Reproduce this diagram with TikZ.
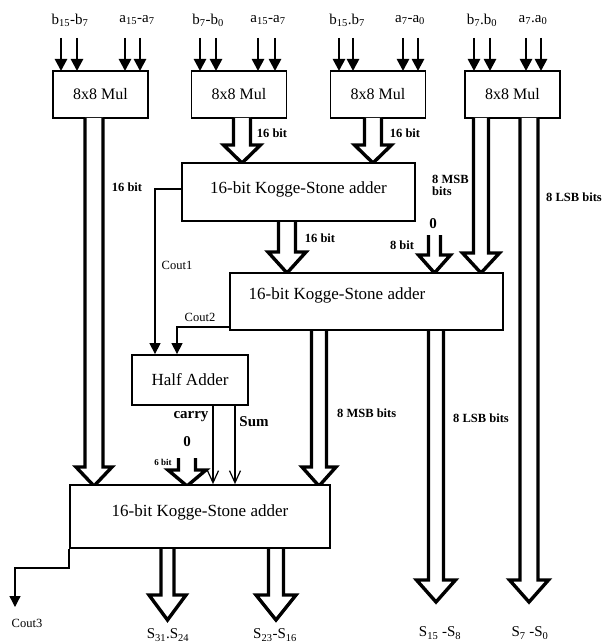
\documentclass[tikz,border=0pt]{standalone}
\usepackage{fontspec}
\setmainfont{Liberation Serif}
\usetikzlibrary{arrows.meta}
\newcommand\harrow[6]{%
  \draw[hollow] (#1-#5,#2) -- (#1-#5,#3) -- (#1-#6,#3) -- (#1,#4) -- (#1+#6,#3) -- (#1+#5,#3) -- (#1+#5,#2);}
\begin{document}
\begin{tikzpicture}[x=1pt,y=-1pt,
  box/.style={draw,line width=1.8pt,inner sep=0pt,fill=white,font=\fontsize{17}{18}\selectfont},
  mulbox/.style={box,minimum width=95pt,minimum height=47pt,font=\fontsize{16}{18}\selectfont},
  hollow/.style={line width=3.4pt,fill=white,line join=miter},
  inarrow/.style={line width=2.6pt,-{Triangle[width=12pt,length=12pt]}},
  thin/.style={line width=1.3pt},
  thinarrow/.style={line width=1.3pt,-{Triangle[width=11pt,length=11pt]}},
  openarrow/.style={line width=1.2pt,-{Straight Barb[width=11pt,length=12pt,line width=1.2pt]}},
  lab/.style={inner sep=0pt,font=\fontsize{15}{16}\selectfont},
  blab/.style={inner sep=0pt,font=\bfseries\fontsize{12.5}{14}\selectfont},
  clab/.style={inner sep=0pt,font=\fontsize{12.5}{14}\selectfont}]
\useasboundingbox[fill=white] (0,0) rectangle (603,644);

% multiplier boxes
\node[mulbox] (mul1) at (100.5,94.5) {8x8 Mul};
\node[mulbox] (mul2) at (239,94.5) {8x8 Mul};
\node[mulbox] (mul3) at (378,94.5) {8x8 Mul};
\node[mulbox] (mul4) at (512.5,94.5) {8x8 Mul};

% input labels
\node[lab] (i1) at (70,20) {b\textsubscript{15}-b\textsubscript{7}};
\node[lab] (i2) at (137,20) {a\textsubscript{15}-a\textsubscript{7}};
\node[lab] (i3) at (208,20) {b\textsubscript{7}-b\textsubscript{0}};
\node[lab] (i4) at (268,20) {a\textsubscript{15}-a\textsubscript{7}};
\node[lab] (i5) at (347,20) {b\textsubscript{15}.b\textsubscript{7}};
\node[lab] (i6) at (410,20) {a\textsubscript{7}-a\textsubscript{0}};
\node[lab] (i7) at (482,20) {b\textsubscript{7}.b\textsubscript{0}};
\node[lab] (i8) at (533,20) {a\textsubscript{7}.a\textsubscript{0}};

% input arrows
\foreach \x in {61,77,125,140} \draw[inarrow] (\x,38) -- (\x,71);
\foreach \x in {200,216,258,275} \draw[inarrow] (\x,38) -- (\x,71);
\foreach \x in {339,353,403,418} \draw[inarrow] (\x,38) -- (\x,71);
\foreach \x in {474,490,526,541} \draw[inarrow] (\x,38) -- (\x,71);

% hollow bus arrows
\harrow{94}{118}{467}{486}{9}{18}
\harrow{242}{118}{145}{163}{8.5}{18.5}
\harrow{373}{118}{145}{163}{8.5}{18.5}
\harrow{481}{118}{253}{273}{7.5}{18.5}
\harrow{529}{118}{580}{602}{9}{19.5}
\harrow{287}{221}{252}{273}{8.5}{19}
\harrow{434.5}{235}{255}{273}{6}{16}
\harrow{319}{330}{467}{486}{7.5}{17}
\harrow{436}{330}{580}{602}{7.5}{19.5}
\harrow{187}{458}{470}{486}{8.5}{19}
\harrow{167.5}{548}{595}{620}{6.5}{18.5}
\harrow{276}{548}{595}{620}{7.5}{20}

% adders
\node[box,minimum width=233pt,minimum height=58pt] (ks1) at (298.5,192) {\raisebox{9pt}{16-bit Kogge-Stone adder}};
\node[box,minimum width=273pt,minimum height=57pt] (ks2) at (366.5,301.5) {};
\node[inner sep=0pt,font=\fontsize{17}{18}\selectfont] (ks2t) at (337,295) {16-bit Kogge-Stone adder};
\node[box,minimum width=116pt,minimum height=50pt] (ha) at (190,380) {Half Adder};
\node[box,minimum width=260pt,minimum height=63pt] (ks3) at (200,516.5) {\raisebox{12pt}{16-bit Kogge-Stone adder}};

% carry connections
\coordinate (c1a) at (155,189);
\coordinate (c2a) at (177,327);
\draw[thinarrow] (ks1.west |- c1a) -| (ha.north -| c1a);
\draw[thinarrow] (ks2.west |- c2a) -| (ha.north -| c2a);
\coordinate (cx) at (213,0);
\coordinate (sx) at (235,0);
\draw[openarrow] (ha.south -| cx) -- (ks3.north -| cx);
\draw[openarrow] (ha.south -| sx) -- (ks3.north -| sx);
\coordinate (c3a) at (15,568);
\coordinate (c3b) at (15,607);
\draw[thinarrow] (ks3.south west) |- (c3a) -- (c3b);

% bold labels
\node[blab] (l1) at (127,187) {16 bit};
\node[blab] (l2) at (272,133) {16 bit};
\node[blab] (l3) at (405,133) {16 bit};
\node[blab] (l4) at (320,238) {16 bit};
\node[blab,anchor=west,align=left] (l5) at (432,185) {8 MSB\\[-2pt]bits};
\node[blab,font=\bfseries\fontsize{15}{16}\selectfont] (z1) at (433,224) {0};
\node[blab] (l6) at (402,245) {8 bit};
\node[blab,anchor=west] (l7) at (546,197) {8 LSB bits};
\node[blab,anchor=west] (l8) at (337,413) {8 MSB bits};
\node[blab,anchor=west] (l9) at (453,418) {8 LSB bits};
\node[blab,font=\bfseries\fontsize{15}{16}\selectfont] (l10) at (191,417) {carry};
\node[blab,font=\bfseries\fontsize{15}{16}\selectfont] (l11) at (254,422) {Sum};
\node[blab,font=\bfseries\fontsize{15}{16}\selectfont] (z2) at (187,442) {0};
\node[blab,font=\bfseries\fontsize{9}{10}\selectfont] (l12) at (163,462) {6 bit};

% carry labels
\node[clab] (cl1) at (177,265) {Cout1};
\node[clab] (cl2) at (200,317) {Cout2};
\node[clab] (cl3) at (27,623) {Cout3};

% output labels
\node[lab] (o1) at (168,635) {S\textsubscript{31}.S\textsubscript{24}};
\node[lab] (o2) at (275,635) {S\textsubscript{23}-S\textsubscript{16}};
\node[lab] (o3) at (440,633) {S\textsubscript{15} -S\textsubscript{8}};
\node[lab] (o4) at (530,633) {S\textsubscript{7} -S\textsubscript{0}};
\end{tikzpicture}
\end{document}
